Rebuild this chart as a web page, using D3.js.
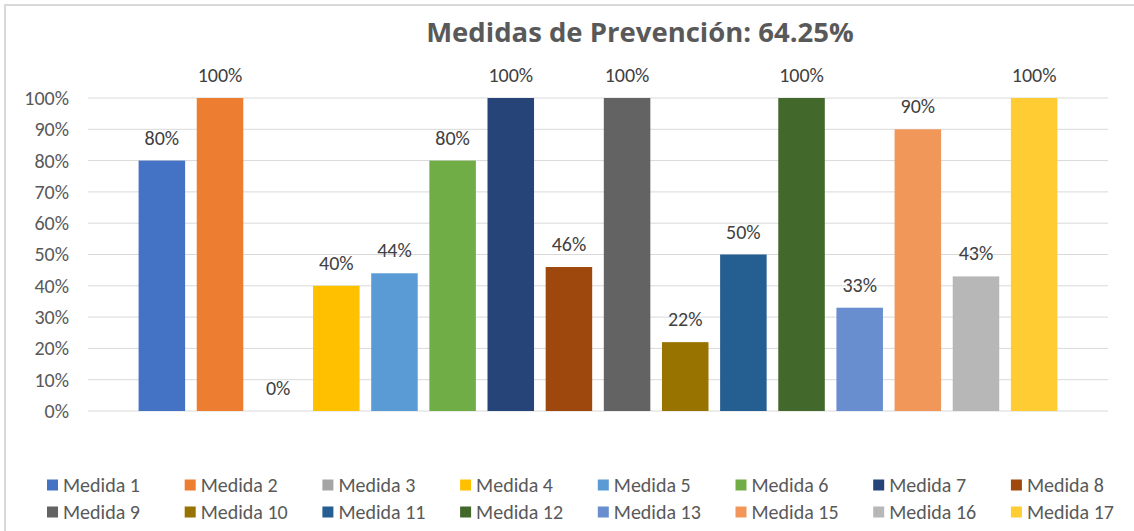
<!DOCTYPE html>
<html>
<head>
<meta charset="utf-8">
<script src="https://cdn.jsdelivr.net/npm/d3@7"></script>
<style>
  html, body { margin: 0; padding: 0; background: #fff; }
  svg { display: block; font-family: Carlito, Calibri, "Liberation Sans", sans-serif; }
</style>
</head>
<body>
<svg id="chart" width="1134" height="531"></svg>
<script>
const categories = ["Medida 1", "Medida 2", "Medida 3", "Medida 4", "Medida 5", "Medida 6",
  "Medida 7", "Medida 8", "Medida 9", "Medida 10", "Medida 11", "Medida 12",
  "Medida 13", "Medida 15", "Medida 16", "Medida 17"]
const values = [80, 100, 0, 40, 44, 80, 100, 46, 100, 22, 50, 100, 33, 90, 43, 100]
const colors = ["#4472c4", "#ed7d31", "#a5a5a5", "#ffc000", "#5b9bd5", "#70ad47",
  "#264478", "#9e480e", "#636363", "#997300", "#255e91", "#43682b",
  "#698ed0", "#f1975a", "#b7b7b7", "#ffcd33"]
const y_ticks = [0, 10, 20, 30, 40, 50, 60, 70, 80, 90, 100]
const title = "Medidas de Prevención: 64.25%"

const svg = d3.select("#chart")
const text_color = "#595959"

// chart area border
svg.append("rect")
  .attr("x", 5).attr("y", 5)
  .attr("width", 1140).attr("height", 540)
  .attr("fill", "none")
  .attr("stroke", "#d9d9d9")
  .attr("stroke-width", 2)

svg.append("text")
  .attr("x", 640)
  .attr("y", 42)
  .attr("text-anchor", "middle")
  .attr("font-family", "'Open Sans', sans-serif")
  .attr("font-weight", "bold")
  .attr("font-size", "27.5px")
  .attr("fill", text_color)
  .text(title)

const x = d3.scaleBand()
  .domain(categories)
  .range([88, 1108])
  .paddingInner(0.2)
  .paddingOuter(0.87)

const y = d3.scaleLinear()
  .domain([0, 100])
  .range([411, 98])

// gridlines
svg.append("g")
  .selectAll("line")
  .data(y_ticks)
  .join("line")
  .attr("x1", 88).attr("x2", 1108)
  .attr("y1", d => y(d)).attr("y2", d => y(d))
  .attr("stroke", "#d9d9d9")
  .attr("stroke-width", 1)

// y axis labels
const y_axis = svg.append("g")
  .attr("transform", "translate(78,0)")
  .call(d3.axisLeft(y).tickValues(y_ticks).tickFormat(d => d + "%").tickSize(0).tickPadding(9))
y_axis.attr("font-family", null).attr("font-size", null)
y_axis.select(".domain").remove()
y_axis.selectAll("text")
  .attr("fill", text_color)
  .attr("font-size", "20px")

svg.append("g")
  .selectAll("rect")
  .data(values)
  .join("rect")
  .attr("x", (d, i) => x(categories[i]))
  .attr("y", d => y(d))
  .attr("width", x.bandwidth())
  .attr("height", d => y(0) - y(d))
  .attr("fill", (d, i) => colors[i])

svg.append("g")
  .selectAll("text")
  .data(values)
  .join("text")
  .attr("x", (d, i) => x(categories[i]) + x.bandwidth() / 2)
  .attr("y", d => y(d) - 16)
  .attr("text-anchor", "middle")
  .attr("font-size", "20px")
  .attr("fill", "#404040")
  .text(d => d + "%")

// legend: 2 rows of 8
const legend = svg.append("g")
const col_w = 137.7
const legend_items = legend.selectAll("g")
  .data(categories)
  .join("g")
  .attr("transform", (d, i) => `translate(${47 + (i % 8) * col_w},${i < 8 ? 485 : 512})`)
legend_items.append("rect")
  .attr("x", 0).attr("y", -5.5)
  .attr("width", 11).attr("height", 11)
  .attr("fill", (d, i) => colors[i])
legend_items.append("text")
  .attr("x", 16)
  .attr("y", 0)
  .attr("dy", "0.35em")
  .attr("font-size", "20px")
  .attr("fill", text_color)
  .text(d => d)
</script>
</body>
</html>
